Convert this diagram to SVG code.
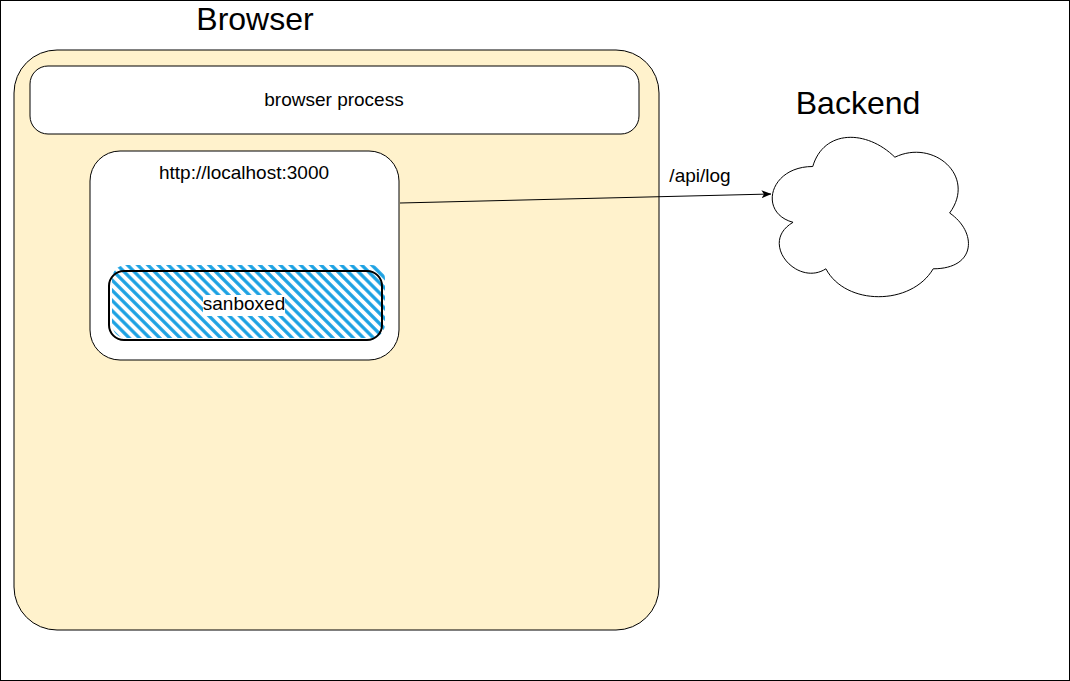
<svg xmlns="http://www.w3.org/2000/svg" width="1070" height="681" viewBox="0 0 1070 681">
<style>
text{font-family:"Liberation Sans",Arial,sans-serif;fill:#000;text-anchor:middle}
.lbl{font-size:19px}
.title{font-size:32px}
.box{fill:#fff;stroke:#000;stroke-width:1}
</style>
<defs>
<pattern id="hatch" patternUnits="userSpaceOnUse" width="7.2" height="10" patternTransform="rotate(-45)">
<line x1="3.6" y1="-1" x2="3.6" y2="11" stroke="#1ba1e2" stroke-width="3.3"/>
</pattern>
<clipPath id="hclip"><rect x="112" y="265" width="273" height="73" rx="14"/></clipPath>
<marker id="arr" markerWidth="10" markerHeight="8" refX="9.5" refY="4" orient="auto" markerUnits="userSpaceOnUse">
<path d="M0,0 L10,4 L0,8 L2.5,4 Z" fill="#000"/>
</marker>
</defs>
<rect x="0.5" y="0.5" width="1069" height="680" fill="#fff" stroke="#000"/>
<g id="browser">
<rect x="14" y="50" width="645" height="580" rx="43" fill="#fff2cc" stroke="#000"/>
<text class="title" x="255" y="30">Browser</text>
</g>
<g id="browser-process">
<rect class="box" x="30" y="66" width="609" height="68" rx="18"/>
<text class="lbl" x="334" y="106">browser process</text>
</g>
<g id="localhost">
<rect class="box" x="90" y="151" width="309" height="209" rx="30"/>
<text class="lbl" x="244" y="179">http://localhost:3000</text>
</g>
<g id="sandboxed">
<rect x="112" y="265" width="273" height="73" fill="url(#hatch)" clip-path="url(#hclip)"/>
<rect x="109" y="271" width="273" height="69" rx="15" fill="none" stroke="#000" stroke-width="2"/>
<rect x="203" y="295" width="82" height="21" fill="#fff"/>
<text class="lbl" x="244" y="310">sanboxed</text>
</g>
<g id="backend">
<path d="M812.75,166.5 C768.95,166.5 758,213 793.04,222.3 C758,242.76 797.42,287.4 825.89,268.8 C845.6,306 911.3,306 933.2,268.8 C977,268.8 977,231.6 949.63,213 C977,175.8 933.2,138.6 894.88,157.2 C866.5,129.3 823.7,129.3 812.75,166.5 Z" fill="#fff" stroke="#000"/>
<text class="title" x="858" y="114">Backend</text>
</g>
<g id="connectors">
<line x1="400" y1="203" x2="771" y2="194" stroke="#000" stroke-width="1" marker-end="url(#arr)"/>
<text class="lbl" x="700" y="182">/api/log</text>
</g>
</svg>
